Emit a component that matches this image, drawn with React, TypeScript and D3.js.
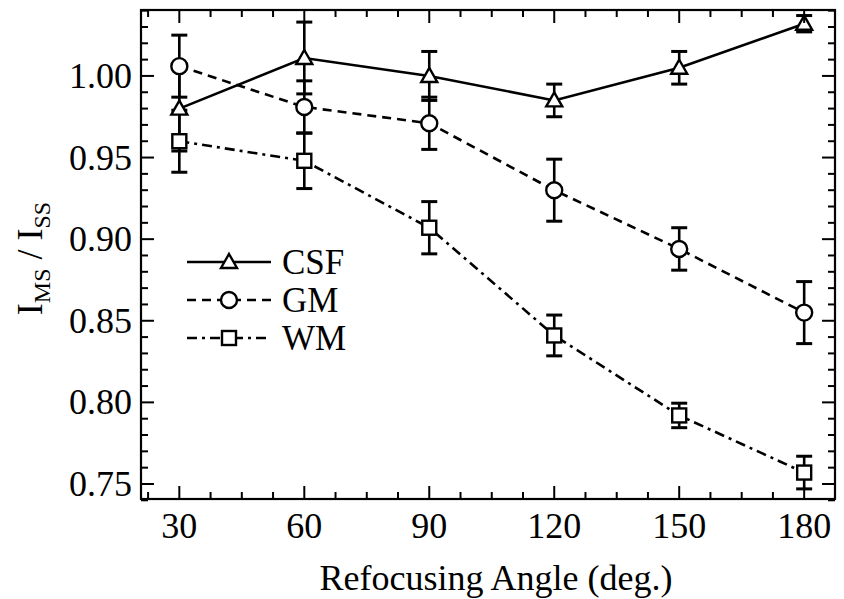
import React from 'react';
import * as d3 from 'd3';

// refocusing angle, deg.
const angles = [30, 60, 90, 120, 150, 180];

// I_MS / I_SS ratios and error half-widths
const csf = [0.980, 1.011, 1.000, 0.985, 1.005, 1.032];
const csfErr = [0.026, 0.022, 0.015, 0.010, 0.010, 0.005];
const gm = [1.006, 0.981, 0.971, 0.930, 0.894, 0.855];
const gmErr = [0.019, 0.016, 0.016, 0.019, 0.013, 0.019];
const wm = [0.960, 0.948, 0.907, 0.841, 0.792, 0.757];
const wmErr = [0.019, 0.017, 0.016, 0.0125, 0.0075, 0.010];

const xTicks = [30, 60, 90, 120, 150, 180];
const yTicks = [0.75, 0.8, 0.85, 0.9, 0.95, 1.0];

const W = 844;
const H = 599;
const left = 141, right = 835, top = 10, bottom = 499;
const font = '"Liberation Serif", "DejaVu Serif", serif';

const x = d3.scaleLinear().domain([20.8, 187.4]).range([left, right]);
const y = d3.scaleLinear().domain([0.7408, 1.0404]).range([bottom, top]);

const series = [
  { name: 'CSF', vals: csf, errs: csfErr, dash: 'none', marker: 'tri' },
  { name: 'GM', vals: gm, errs: gmErr, dash: '9,6', marker: 'circ' },
  { name: 'WM', vals: wm, errs: wmErr, dash: '10,5,3,5', marker: 'sq' },
];

const Marker = ({ kind, cx, cy }: { kind: string; cx: number; cy: number }) => {
  if (kind === 'tri') {
    const s = 8;
    return (
      <path
        d={`M${cx},${cy - s} L${cx + s},${cy + s * 0.75} L${cx - s},${cy + s * 0.75} Z`}
        fill="white" stroke="black" strokeWidth={2.4}
      />
    );
  }
  if (kind === 'circ') {
    return <circle cx={cx} cy={cy} r={8} fill="white" stroke="black" strokeWidth={2.4} />;
  }
  return <rect x={cx - 7} y={cy - 7} width={14} height={14} fill="white" stroke="black" strokeWidth={2.4} />;
};

export default function App() {
  const line = d3.line<number>().x((_, i) => x(angles[i])).y(d => y(d));

  const xMinor = d3.range(22.5, 187, 7.5).filter(v => !xTicks.includes(v));
  const yMinor = d3.range(74, 105).map(v => v / 100).filter(v => !yTicks.some(t => Math.abs(t - v) < 1e-6));

  return (
    <svg width={W} height={H} style={{ position: 'absolute', left: 0, top: 0, background: 'white' }}>
      {/* error bars first, under the markers */}
      {series.map(s => (
        <g key={s.name + 'err'} stroke="black">
          {s.vals.map((v, i) => {
            const cx = x(angles[i]);
            const y1 = y(Math.min(v + s.errs[i], 1.0404));
            const y2 = y(v - s.errs[i]);
            return (
              <g key={i}>
                <line x1={cx} x2={cx} y1={y1} y2={y2} strokeWidth={2.6} />
                <line x1={cx - 8} x2={cx + 8} y1={y1} y2={y1} strokeWidth={3} />
                <line x1={cx - 8} x2={cx + 8} y1={y2} y2={y2} strokeWidth={3} />
              </g>
            );
          })}
        </g>
      ))}

      {series.map(s => (
        <path key={s.name} d={line(s.vals) || ''} fill="none" stroke="black" strokeWidth={2.6} strokeDasharray={s.dash} />
      ))}

      {series.map(s => (
        <g key={s.name + 'm'}>
          {s.vals.map((v, i) => <Marker key={i} kind={s.marker} cx={x(angles[i])} cy={y(v)} />)}
        </g>
      ))}

      {/* frame */}
      <rect x={left} y={top} width={right - left} height={bottom - top} fill="none" stroke="black" strokeWidth={2.2} />

      {/* ticks on all four sides */}
      <g stroke="black" strokeWidth={2}>
        {xTicks.map(t => (
          <g key={t}>
            <line x1={x(t)} x2={x(t)} y1={bottom} y2={bottom - 13} />
            <line x1={x(t)} x2={x(t)} y1={top} y2={top + 13} />
          </g>
        ))}
        {xMinor.map(t => (
          <g key={t}>
            <line x1={x(t)} x2={x(t)} y1={bottom} y2={bottom - 7} />
            <line x1={x(t)} x2={x(t)} y1={top} y2={top + 7} />
          </g>
        ))}
        {yTicks.map(t => (
          <g key={t}>
            <line x1={left} x2={left + 13} y1={y(t)} y2={y(t)} />
            <line x1={right} x2={right - 13} y1={y(t)} y2={y(t)} />
          </g>
        ))}
        {yMinor.map(t => (
          <g key={t}>
            <line x1={left} x2={left + 7} y1={y(t)} y2={y(t)} />
            <line x1={right} x2={right - 7} y1={y(t)} y2={y(t)} />
          </g>
        ))}
      </g>

      {/* tick labels and titles */}
      <g fontFamily={font} fontSize={36} fill="black">
        {xTicks.map(t => (
          <text key={t} x={x(t)} y={bottom + 39} textAnchor="middle">{t}</text>
        ))}
        {yTicks.map(t => (
          <text key={t} x={left - 9} y={y(t) + 12} textAnchor="end">{t.toFixed(2)}</text>
        ))}
        <text x={(left + right) / 2 + 8} y={590} textAnchor="middle">Refocusing Angle (deg.)</text>
        <text transform={`translate(42, ${(top + bottom) / 2 + 4}) rotate(-90)`} textAnchor="middle">
          I<tspan fontSize={24} dy={8}>MS</tspan><tspan dy={-8}> / I</tspan><tspan fontSize={24} dy={8}>SS</tspan>
        </text>
      </g>

      {/* legend */}
      {series.map((s, i) => {
        const ly = 262 + i * 38;
        return (
          <g key={s.name + 'leg'}>
            <line x1={187} x2={271} y1={ly} y2={ly} stroke="black" strokeWidth={2.6} strokeDasharray={s.dash} />
            <Marker kind={s.marker} cx={229} cy={ly} />
            <text x={282} y={ly + 12} fontFamily={font} fontSize={35}>{s.name}</text>
          </g>
        );
      })}
    </svg>
  );
}
